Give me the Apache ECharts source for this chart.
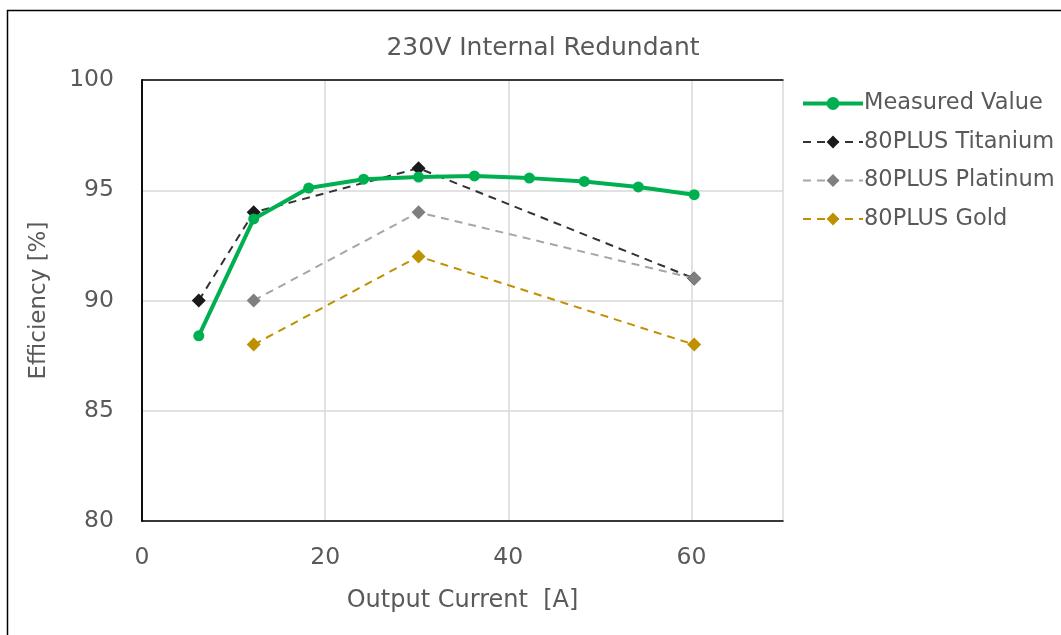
<!DOCTYPE html>
<html>
<head>
<meta charset="utf-8">
<script src="https://cdn.jsdelivr.net/npm/echarts@6/dist/echarts.min.js"></script>
<style>
  html, body { margin: 0; padding: 0; background: #fff; }
  #chart { width: 1061px; height: 635px; }
</style>
</head>
<body>
<div id="chart"></div>
<script>
// output current [A]
var measuredX = [6.2, 12.2, 18.2, 24.2, 30.2, 36.3, 42.3, 48.3, 54.2, 60.3];
var measuredY = [88.4, 93.7, 95.1, 95.5, 95.6, 95.65, 95.55, 95.4, 95.15, 94.8];

var titaniumX = [6.2, 12.2, 30.2, 60.3];
var titaniumY = [90, 94, 96, 91];

var platinumX = [12.2, 30.2, 60.3];
var platinumY = [90, 94, 91];

var goldX = [12.2, 30.2, 60.3];
var goldY = [88, 92, 88];

function pairs(xs, ys) {
    return xs.map(function (x, i) { return [x, ys[i]]; });
}

var font = 'DejaVu Sans';
var textColor = '#595959';
var frameAxis = {
    axisLine: { show: true, lineStyle: { color: '#000', width: 1.5 } },
    axisTick: { show: false },
    axisLabel: { show: false },
    splitLine: { show: false }
};

var chart = echarts.init(document.getElementById('chart'));

var option = {
    animation: false,
    backgroundColor: '#fff',
    title: {
        text: '230V Internal Redundant',
        left: 538,
        textAlign: 'center',
        top: 31,
        textStyle: { fontFamily: font, fontSize: 25, fontWeight: 'normal', color: textColor }
    },
    graphic: [{
        type: 'rect',
        shape: { x: 7.5, y: 10.5, width: 1070, height: 640 },
        style: { fill: 'none', stroke: '#000', lineWidth: 1.5 },
        silent: true
    }],
    legend: {
        orient: 'vertical',
        left: 796,
        top: 87,
        itemWidth: 60,
        itemHeight: 16,
        itemGap: 15.5,
        textStyle: { fontFamily: font, fontSize: 22.5, color: textColor, padding: [0, 0, 0, -4] },
        data: [
            { name: 'Measured Value', lineStyle: { width: 4 } },
            { name: '80PLUS Titanium', lineStyle: { width: 2 } },
            { name: '80PLUS Platinum', lineStyle: { width: 2 } },
            { name: '80PLUS Gold', lineStyle: { width: 2 } }
        ]
    },
    grid: {
        left: 142, top: 80, right: 278, bottom: 114
    },
    xAxis: [{
        type: 'value',
        min: 0, max: 70, interval: 20,
        name: 'Output Current  [A]',
        nameLocation: 'middle',
        nameGap: 68,
        nameTextStyle: { fontFamily: font, fontSize: 24, color: textColor },
        axisLine: { show: true, lineStyle: { color: '#000', width: 1.5 } },
        axisTick: { show: false },
        axisLabel: { fontFamily: font, fontSize: 23.5, color: textColor, margin: 25, showMaxLabel: false },
        splitLine: { show: true, lineStyle: { color: '#d9d9d9', width: 1.5 } }
    }, Object.assign({ type: 'value', min: 0, max: 70, position: 'top' }, frameAxis)],
    yAxis: [{
        type: 'value',
        min: 80, max: 100, interval: 5,
        name: 'Efficiency [%]',
        nameLocation: 'middle',
        nameGap: 91,
        nameTextStyle: { fontFamily: font, fontSize: 23, color: textColor },
        axisLine: { show: true, lineStyle: { color: '#000', width: 1.5 } },
        axisTick: { show: false },
        axisLabel: { fontFamily: font, fontSize: 23.5, color: textColor, margin: 28 },
        splitLine: { show: true, lineStyle: { color: '#d9d9d9', width: 1.5 } }
    }, Object.assign({ type: 'value', min: 80, max: 100, position: 'right' }, frameAxis)],
    series: [
        {
            name: 'Measured Value',
            type: 'line',
            data: pairs(measuredX, measuredY),
            symbol: 'circle',
            symbolSize: 11,
            z: 5,
            lineStyle: { color: '#00b050', width: 4 },
            itemStyle: { color: '#00b050' }
        },
        {
            name: '80PLUS Titanium',
            type: 'line',
            data: pairs(titaniumX, titaniumY),
            symbol: 'diamond',
            symbolSize: 14,
            z: 4,
            lineStyle: { color: '#333333', width: 2, type: [8, 6] },
            itemStyle: { color: '#1a1a1a' }
        },
        {
            name: '80PLUS Platinum',
            type: 'line',
            data: pairs(platinumX, platinumY),
            symbol: 'diamond',
            symbolSize: 14,
            z: 4,
            lineStyle: { color: '#a6a6a6', width: 2, type: [8, 6] },
            itemStyle: { color: '#7f7f7f' }
        },
        {
            name: '80PLUS Gold',
            type: 'line',
            data: pairs(goldX, goldY),
            symbol: 'diamond',
            symbolSize: 14,
            z: 3,
            lineStyle: { color: '#bf9000', width: 2, type: [8, 6] },
            itemStyle: { color: '#bf9000' }
        }
    ]
};

chart.setOption(option);

window.addEventListener('resize', function () {
    chart.resize();
});
</script>
</body>
</html>
